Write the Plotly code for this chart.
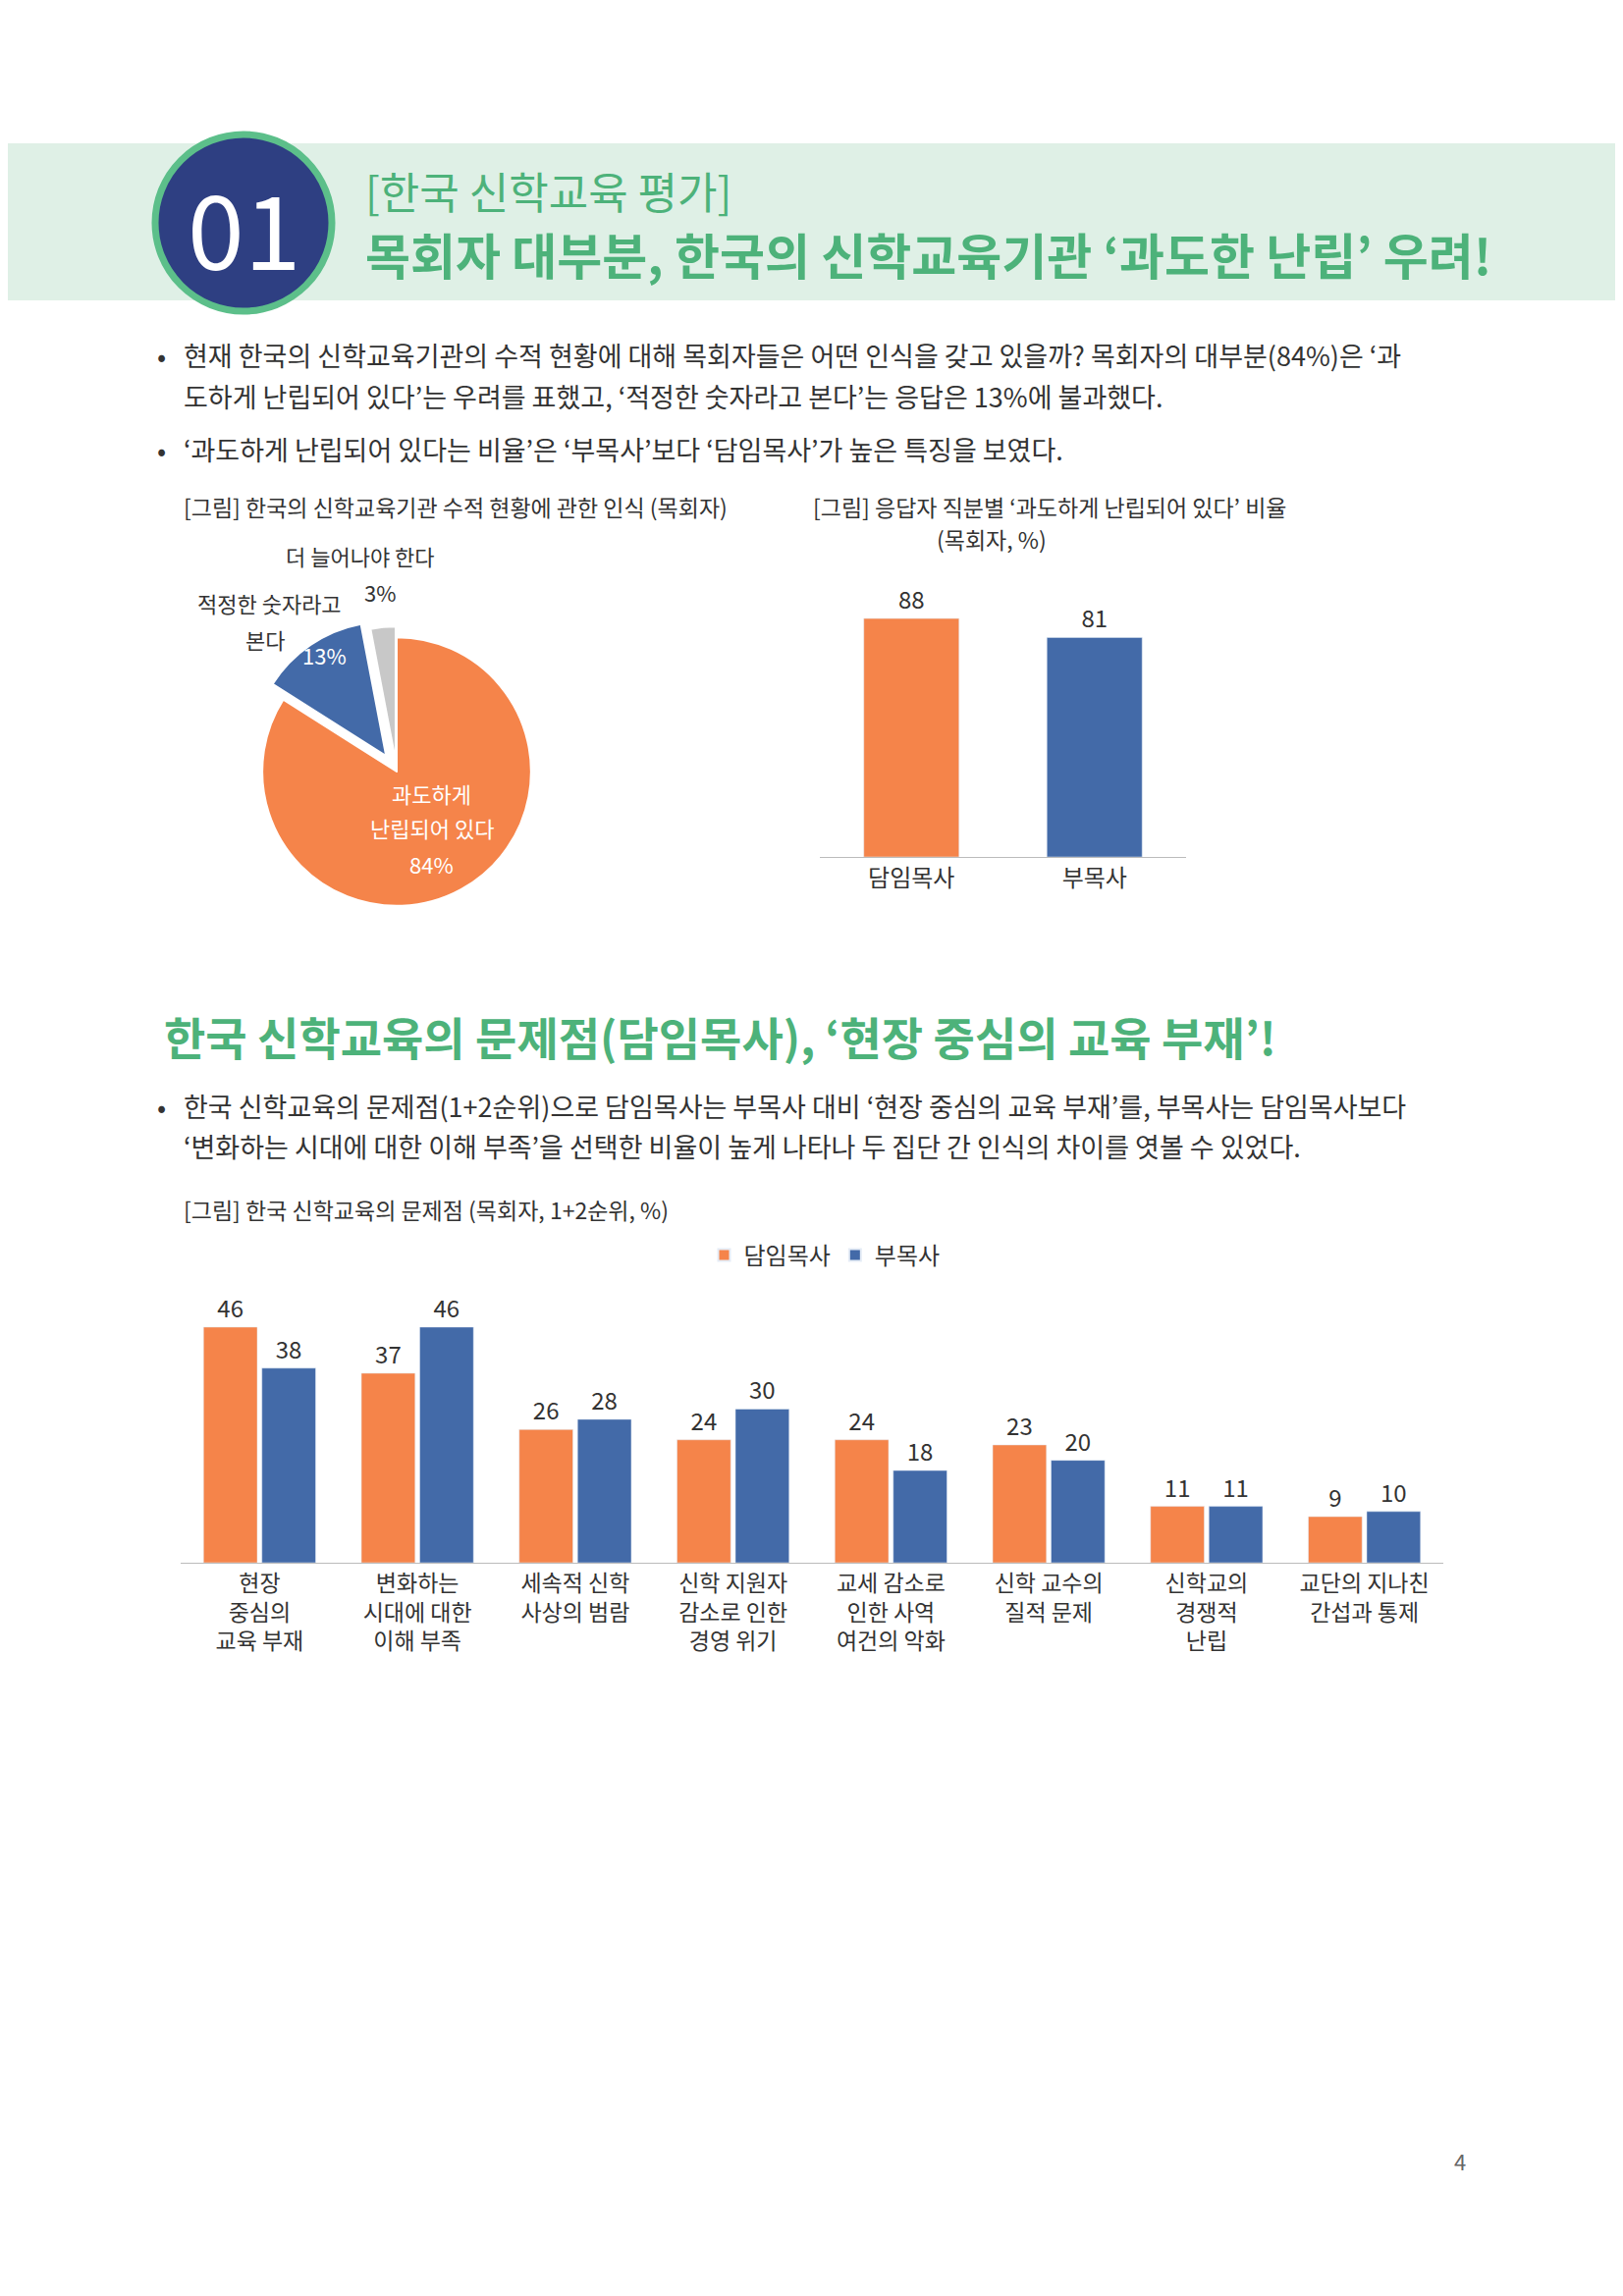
import plotly.graph_objects as go

# 데이터
pie_labels = ["과도하게 난립되어 있다", "적정한 숫자라고 본다", "더 늘어나야 한다"]
pie_values = [84, 13, 3]

role_cats = ["담임목사", "부목사"]
role_values = [88, 81]

prob_cats = ["현장<br>중심의<br>교육 부재", "변화하는<br>시대에 대한<br>이해 부족", "세속적 신학<br>사상의 범람",
             "신학 지원자<br>감소로 인한<br>경영 위기", "교세 감소로<br>인한 사역<br>여건의 악화",
             "신학 교수의<br>질적 문제", "신학교의<br>경쟁적<br>난립", "교단의 지나친<br>간섭과 통제"]
senior = [46, 37, 26, 24, 24, 23, 11, 9]
associate = [38, 46, 28, 30, 18, 20, 11, 10]

W, H = 1653, 2339
ORANGE = "#f5844a"
BLUE = "#436aa8"
GRAY = "#c8c8c8"
GREEN = "#4db27a"
TXT = "#333333"
FONT = "Noto Sans CJK KR"

# 페이지 여백(8px) 보정
OFF = 8

def px(x):
    return (x - OFF) / W

def py(y):
    return 1 - (y - OFF) / H

fig = go.Figure()

# 원그래프
fig.add_trace(go.Pie(
    labels=pie_labels, values=pie_values, sort=False, direction="clockwise", rotation=0,
    marker=dict(colors=[ORANGE, BLUE, GRAY], line=dict(color="white", width=2)),
    pull=[0, 0.14, 0.08], textinfo="none", showlegend=False, hoverinfo="label+percent",
    domain=dict(x=[px(248), px(560)], y=[py(942), py(630)])
))

# 직분별 막대
fig.add_trace(go.Bar(
    x=role_cats, y=role_values, marker_color=[ORANGE, BLUE], width=0.52,
    text=role_values, textposition="outside", textfont=dict(size=24, color=TXT),
    cliponaxis=False, showlegend=False, xaxis="x", yaxis="y"
))

# 문제점 막대
fig.add_trace(go.Bar(
    x=prob_cats, y=senior, name="담임목사", marker_color=ORANGE,
    text=senior, textposition="outside", textfont=dict(size=24, color=TXT),
    cliponaxis=False, xaxis="x2", yaxis="y2"
))
fig.add_trace(go.Bar(
    x=prob_cats, y=associate, name="부목사", marker_color=BLUE,
    text=associate, textposition="outside", textfont=dict(size=24, color=TXT),
    cliponaxis=False, xaxis="x2", yaxis="y2"
))

shapes = [
    dict(type="rect", xref="paper", yref="paper", x0=0, x1=1, y0=py(306), y1=py(146),
         fillcolor="#dff0e6", line_width=0, layer="below"),
    dict(type="circle", xref="paper", yref="paper", x0=px(158), x1=px(338), y0=py(317), y1=py(137),
         fillcolor="#2e3f82", line=dict(color="#5cbf8a", width=7)),
]

annotations = []

def txt(x, y, s, size=28, color=TXT, anchor="left", yanchor="middle", **kw):
    annotations.append(dict(xref="paper", yref="paper", x=px(x), y=py(y), text=s, showarrow=False,
                            xanchor=anchor, yanchor=yanchor,
                            font=dict(family=FONT, size=size, color=color), **kw))

txt(248, 229, "01", size=104, color="white", anchor="center")
txt(370, 194, "[한국 신학교육 평가]", size=44, color=GREEN)
txt(370, 258, "<b>목회자 대부분, 한국의 신학교육기관 ‘과도한 난립’ 우려!</b>", size=50, color=GREEN)

txt(158, 361, "•", size=27)
txt(185, 361, "현재 한국의 신학교육기관의 수적 현황에 대해 목회자들은 어떤 인식을 갖고 있을까? 목회자의 대부분(84%)은 ‘과", size=27)
txt(185, 403, "도하게 난립되어 있다’는 우려를 표했고, ‘적정한 숫자라고 본다’는 응답은 13%에 불과했다.", size=27)
txt(158, 457, "•", size=27)
txt(185, 457, "‘과도하게 난립되어 있다는 비율’은 ‘부목사’보다 ‘담임목사’가 높은 특징을 보였다.", size=27)

txt(185, 516, "[그림] 한국의 신학교육기관 수적 현황에 관한 인식 (목회자)", size=23)
txt(826, 516, "[그림] 응답자 직분별 ‘과도하게 난립되어 있다’ 비율", size=23)
txt(1010, 549, "(목회자, %)", size=23, anchor="center")

txt(367, 566, "더 늘어나야 한다", size=22, anchor="center")
txt(387, 603, "3%", size=22, anchor="center")
txt(350, 614, "적정한 숫자라고", size=22, anchor="right")
txt(292, 651, "본다", size=22, anchor="right")
txt(330, 667, "13%", size=22, color="white", anchor="center")
txt(440, 808, "과도하게", size=22, color="white", anchor="center")
txt(440, 843, "난립되어 있다", size=22, color="white", anchor="center")
txt(440, 880, "84%", size=22, color="white", anchor="center")

txt(165, 1055, "<b>한국 신학교육의 문제점(담임목사), ‘현장 중심의 교육 부재’!</b>", size=46, color=GREEN)
txt(158, 1126, "•", size=27)
txt(185, 1126, "한국 신학교육의 문제점(1+2순위)으로 담임목사는 부목사 대비 ‘현장 중심의 교육 부재’를, 부목사는 담임목사보다", size=27)
txt(185, 1168, "‘변화하는 시대에 대한 이해 부족’을 선택한 비율이 높게 나타나 두 집단 간 인식의 차이를 엿볼 수 있었다.", size=27)
txt(185, 1232, "[그림] 한국 신학교육의 문제점 (목회자, 1+2순위, %)", size=23)

txt(1495, 2201, "4", size=22, color="#666666", anchor="right")

fig.update_layout(
    width=W, height=H, margin=dict(l=0, r=0, t=0, b=0),
    paper_bgcolor="white", plot_bgcolor="white",
    font=dict(family=FONT, color=TXT),
    shapes=shapes, annotations=annotations,
    barmode="group", bargap=0.26, bargroupgap=0.08,
    xaxis=dict(domain=[px(835), px(1208)], anchor="y", showgrid=False, showline=True, linecolor="#bbbbbb",
               ticks="", tickfont=dict(size=24, color=TXT)),
    yaxis=dict(domain=[py(873), py(597)], anchor="x", range=[0, 100], visible=False),
    xaxis2=dict(domain=[px(184), px(1470)], anchor="y2", showgrid=False, showline=True, linecolor="#bbbbbb",
                ticks="", tickfont=dict(size=23, color=TXT), tickangle=0),
    yaxis2=dict(domain=[py(1592), py(1305)], anchor="x2", range=[0, 55], visible=False),
    legend=dict(orientation="h", x=px(840), xanchor="center", y=py(1279), yanchor="middle",
                font=dict(size=24, color=TXT), itemsizing="constant"),
)

fig.write_html("out.html")
